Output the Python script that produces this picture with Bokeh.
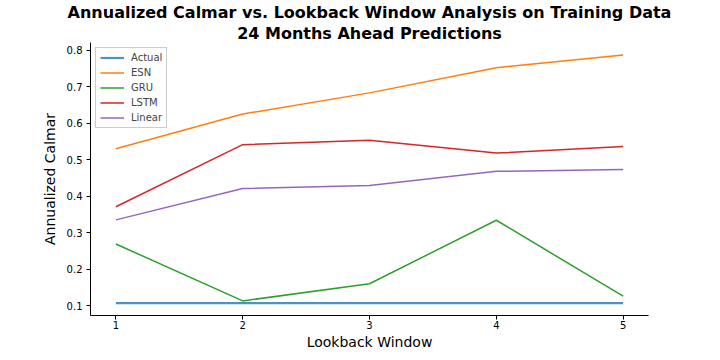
from bokeh.plotting import figure
from bokeh.models import Range1d, Legend, LegendItem, FixedTicker, Title
from bokeh.embed import file_html
from bokeh.resources import INLINE

lookback = [1, 2, 3, 4, 5]
actual = [0.107, 0.107, 0.107, 0.107, 0.107]
esn = [0.530, 0.625, 0.683, 0.752, 0.787]
gru = [0.269, 0.113, 0.160, 0.334, 0.126]
lstm = [0.371, 0.541, 0.553, 0.518, 0.536]
linear = [0.335, 0.421, 0.429, 0.468, 0.473]

series = [
    ("Actual", actual, "#1f77b4", 2.2, 0.8),
    ("ESN", esn, "#ff7f0e", 1.5, 1.0),
    ("GRU", gru, "#2ca02c", 1.5, 1.0),
    ("LSTM", lstm, "#d62728", 1.5, 1.0),
    ("Linear", linear, "#9467bd", 1.5, 1.0),
]
y_ticks = [0.1, 0.2, 0.3, 0.4, 0.5, 0.6, 0.7, 0.8]
title_line1 = "Annualized Calmar vs. Lookback Window Analysis on Training Data"
title_line2 = "24 Months Ahead Predictions"

p = figure(width=712, height=352, output_backend="svg", toolbar_location=None,
           x_range=Range1d(0.8, 5.2), y_range=Range1d(0.073, 0.821))
p.min_border_left = 90
p.min_border_right = 64
p.min_border_bottom = 30
p.min_border_top = 10


def style_title(t, txt):
    t.text = txt
    t.align = "center"
    t.text_font = "DejaVu Sans"
    t.text_font_size = "16px"
    t.text_font_style = "bold"
    t.text_color = "black"
    t.offset = 0
    t.standoff = 0
    t.text_line_height = 1.0


style_title(p.title, title_line1)
t2 = Title()
style_title(t2, title_line2)
p.add_layout(t2, "above")

p.xgrid.visible = False
p.ygrid.visible = False
p.outline_line_color = None

items = []
for name, vals, color, lw, alpha in series:
    r = p.line(lookback, vals, line_color=color, line_width=lw, line_alpha=alpha)
    items.append(LegendItem(label=name, renderers=[r]))

legend = Legend(items=items, location="top_left")
legend.label_text_font = "DejaVu Sans"
legend.label_text_font_size = "10px"
legend.label_height = 11
legend.glyph_height = 11
legend.glyph_width = 24
legend.spacing = 4
legend.padding = 4
legend.margin = 5
legend.label_standoff = 7
legend.border_line_color = "#cccccc"
legend.border_line_alpha = 1.0
legend.background_fill_alpha = 0.8
p.add_layout(legend)

p.xaxis.ticker = FixedTicker(ticks=lookback)
p.yaxis.ticker = FixedTicker(ticks=y_ticks)
p.yaxis.formatter.use_scientific = False

for ax in (p.xaxis, p.yaxis):
    ax.axis_label_text_font = "DejaVu Sans"
    ax.axis_label_text_font_size = "14px"
    ax.axis_label_text_font_style = "normal"
    ax.major_label_text_font = "DejaVu Sans"
    ax.major_label_text_font_size = "10px"
    ax.major_tick_out = 4
    ax.major_tick_in = 0
    ax.minor_tick_out = 0
    ax.minor_tick_in = 0
    ax.axis_line_color = "black"
    ax.major_tick_line_color = "black"
    ax.major_label_text_color = "black"
    ax.axis_label_text_color = "black"

p.xaxis.axis_label = "Lookback Window"
p.yaxis.axis_label = "Annualized Calmar"
p.xaxis.axis_label_standoff = 2
p.yaxis.axis_label_standoff = 6
p.xaxis.major_label_standoff = 1
p.yaxis.major_label_standoff = 4

open("out.html", "w").write(file_html(p, INLINE))
